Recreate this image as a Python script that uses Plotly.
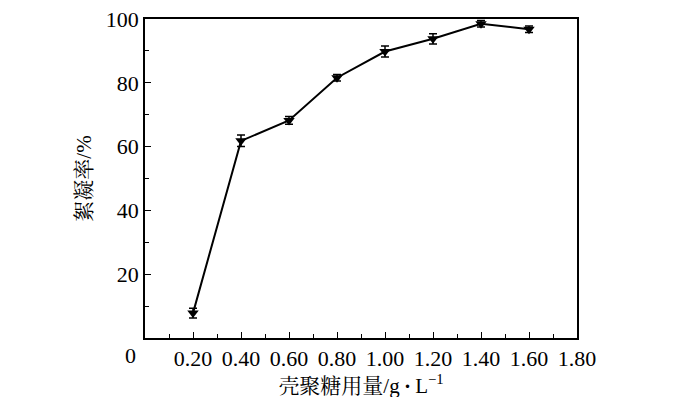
import plotly.graph_objects as go

dose = [0.20, 0.40, 0.60, 0.80, 1.00, 1.20, 1.40, 1.60]
rate = [7.8, 61.8, 68.2, 81.6, 89.8, 93.8, 98.5, 96.8]
err = [1.5, 1.8, 1.2, 1.0, 1.7, 1.6, 1.0, 1.0]
xtick_vals = [0.2, 0.4, 0.6, 0.8, 1.0, 1.2, 1.4, 1.6, 1.8]
xtick_text = ["0.20", "0.40", "0.60", "0.80", "1.00", "1.20", "1.40", "1.60", "1.80"]
ytick_vals = [20, 40, 60, 80, 100]

serif = "Liberation Serif, Times New Roman, serif"
cjk = "Liberation Serif, Noto Serif CJK SC, Noto Sans CJK SC, serif"

fig = go.Figure()
fig.add_trace(go.Scatter(
    x=dose, y=rate, mode="lines+markers",
    line=dict(color="black", width=2),
    marker=dict(symbol="triangle-down", size=10, color="black"),
    error_y=dict(type="data", array=err, color="black", thickness=1.5, width=4),
    showlegend=False,
))

fig.update_layout(
    width=700, height=397,
    margin=dict(l=137, r=131, t=11, b=67),
    plot_bgcolor="white", paper_bgcolor="white",
    font=dict(family=serif, size=22, color="black"),
)
fig.update_xaxes(
    automargin=False, ticklabeloverflow="allow",
    range=[0, 1.8], tickvals=xtick_vals, ticktext=xtick_text,
    ticks="inside", ticklen=6, tickwidth=1.2, tickcolor="black",
    minor=dict(dtick=0.1, tick0=0, ticks="inside", ticklen=4, tickcolor="black", tickwidth=1.2),
    showline=True, linecolor="black", linewidth=1.5, mirror=True,
    showgrid=False, zeroline=False,
    title=dict(text="壳聚糖用量/g\u2009<b>·</b>\u2009L<sup>−1</sup>", font=dict(family=cjk, size=21), standoff=1),
)
fig.update_yaxes(
    automargin=False, ticklabeloverflow="allow",
    range=[0, 100], tickvals=ytick_vals,
    ticks="inside", ticklen=6, tickwidth=1.2, tickcolor="black",
    minor=dict(dtick=10, tick0=0, ticks="inside", ticklen=4, tickcolor="black", tickwidth=1.2),
    showline=True, linecolor="black", linewidth=1.5, mirror=True,
    showgrid=False, zeroline=False,
    title=dict(text="絮凝率/%", font=dict(family=cjk, size=21), standoff=8),
)
fig.add_annotation(
    x=0, y=0, xref="x", yref="y", text="0", showarrow=False,
    xanchor="center", yanchor="top", xshift=-15, yshift=-3,
    font=dict(family=serif, size=22, color="black"),
)
fig.write_html("out.html")
